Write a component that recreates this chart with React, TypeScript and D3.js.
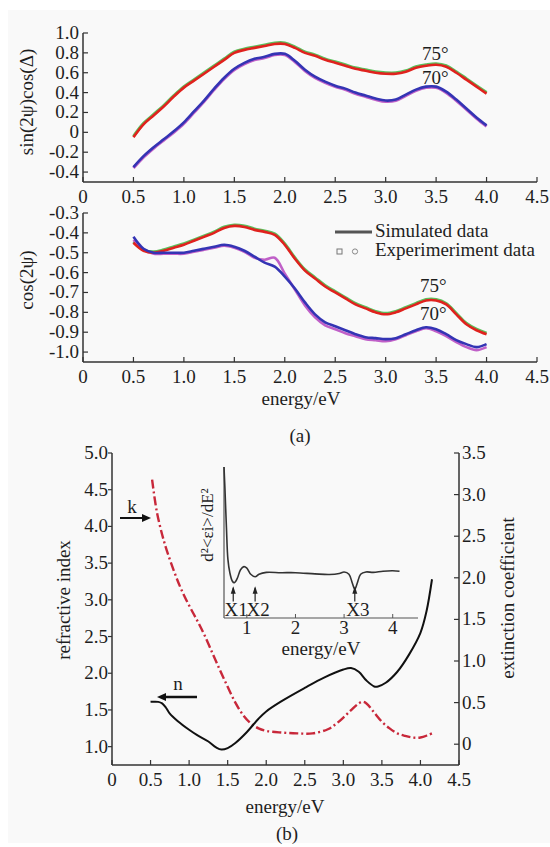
import React from "react";
import * as d3 from "d3";

// ---------- DATA ----------
const energyA = [0.5,0.6,0.7,0.8,0.9,1.0,1.1,1.2,1.3,1.4,1.5,1.6,1.7,1.8,1.9,2.0,2.1,2.2,2.3,2.4,2.5,2.6,2.7,2.8,2.9,3.0,3.1,3.2,3.3,3.4,3.5,3.6,3.7,3.8,3.9,4.0];

const sinCos75 = [-0.05,0.08,0.17,0.26,0.36,0.45,0.52,0.59,0.66,0.73,0.80,0.83,0.85,0.87,0.89,0.89,0.85,0.80,0.77,0.73,0.70,0.67,0.64,0.62,0.60,0.59,0.59,0.61,0.65,0.67,0.68,0.66,0.60,0.53,0.46,0.39];
const sinCos70 = [-0.35,-0.24,-0.15,-0.07,0.01,0.10,0.21,0.32,0.44,0.55,0.64,0.70,0.74,0.76,0.79,0.79,0.72,0.63,0.56,0.51,0.47,0.44,0.40,0.37,0.34,0.32,0.33,0.38,0.43,0.46,0.46,0.41,0.33,0.24,0.15,0.07];

const cos75 = [-0.45,-0.49,-0.50,-0.49,-0.475,-0.46,-0.44,-0.42,-0.40,-0.375,-0.365,-0.37,-0.385,-0.395,-0.41,-0.46,-0.53,-0.59,-0.63,-0.67,-0.70,-0.73,-0.76,-0.78,-0.80,-0.81,-0.80,-0.78,-0.76,-0.74,-0.74,-0.76,-0.81,-0.86,-0.89,-0.91];
const cos70 = [-0.42,-0.48,-0.50,-0.50,-0.50,-0.50,-0.49,-0.48,-0.47,-0.46,-0.47,-0.49,-0.52,-0.55,-0.57,-0.62,-0.68,-0.75,-0.81,-0.85,-0.87,-0.89,-0.91,-0.925,-0.93,-0.935,-0.93,-0.91,-0.89,-0.875,-0.885,-0.91,-0.94,-0.96,-0.975,-0.96];
// experiment data 70° (deviates near 1.8-2.0 eV)
const cos70Exp = [-0.43,-0.48,-0.50,-0.50,-0.50,-0.50,-0.49,-0.48,-0.47,-0.46,-0.47,-0.49,-0.52,-0.53,-0.52,-0.60,-0.68,-0.76,-0.82,-0.86,-0.88,-0.90,-0.915,-0.93,-0.935,-0.94,-0.93,-0.91,-0.89,-0.875,-0.89,-0.915,-0.945,-0.97,-0.985,-0.97];

const topTicksY = [-0.4,-0.2,0,0.2,0.4,0.6,0.8,1.0];
const topTickLabelsY = ["-0.4","-0.2","0","0.2","0.4","0.6","0.8","1.0"];
const midTicksY = [-1.0,-0.9,-0.8,-0.7,-0.6,-0.5,-0.4,-0.3];
const midTickLabelsY = ["-1.0","-0.9","-0.8","-0.7","-0.6","-0.5","-0.4","-0.3"];
const energyTicks = [0,0.5,1.0,1.5,2.0,2.5,3.0,3.5,4.0,4.5];
const energyTickLabels = ["0","0.5","1.0","1.5","2.0","2.5","3.0","3.5","4.0","4.5"];

const kEnergy = [0.52,0.58,0.65,0.71,0.8,0.88,0.96,1.05,1.12,1.2,1.3,1.4,1.5,1.6,1.7,1.8,1.9,2.0,2.2,2.4,2.6,2.8,2.9,3.0,3.1,3.2,3.25,3.3,3.4,3.5,3.6,3.7,3.8,3.9,4.0,4.1,4.15];
const kValues = [3.18,2.80,2.52,2.33,2.09,1.90,1.74,1.58,1.46,1.31,1.10,0.89,0.69,0.50,0.35,0.25,0.19,0.16,0.14,0.13,0.13,0.18,0.24,0.32,0.41,0.49,0.51,0.49,0.38,0.27,0.19,0.13,0.10,0.08,0.08,0.11,0.13];

const nEnergy = [0.5,0.6,0.65,0.7,0.75,0.85,1.0,1.1,1.25,1.35,1.42,1.5,1.6,1.75,1.9,2.0,2.2,2.5,2.75,3.0,3.1,3.2,3.3,3.4,3.45,3.55,3.7,3.85,4.0,4.08,4.15];
const nValues = [1.61,1.61,1.59,1.53,1.45,1.35,1.23,1.16,1.07,0.99,0.96,0.98,1.05,1.20,1.38,1.48,1.62,1.80,1.94,2.05,2.07,2.02,1.90,1.82,1.82,1.87,2.02,2.25,2.55,2.85,3.28];

const nTicks = [1.0,1.5,2.0,2.5,3.0,3.5,4.0,4.5,5.0];
const nTickLabels = ["1.0","1.5","2.0","2.5","3.0","3.5","4.0","4.5","5.0"];
const kTicks = [0,0.5,1.0,1.5,2.0,2.5,3.0,3.5];
const kTickLabels = ["0","0.5","1.0","1.5","2.0","2.5","3.0","3.5"];

const insetEnergy = [0.53,0.55,0.58,0.61,0.65,0.7,0.74,0.8,0.87,0.94,1.0,1.08,1.17,1.25,1.4,1.7,2.0,2.4,2.7,2.9,3.0,3.1,3.17,3.22,3.27,3.34,3.45,3.6,3.8,4.0,4.14];
const insetValues = [10.0,8.5,6.0,3.9,3.0,2.45,2.33,2.6,3.2,3.4,3.3,2.9,2.73,2.9,3.02,3.0,3.0,2.92,2.88,2.95,3.05,2.9,2.3,1.9,2.3,2.9,3.05,3.02,3.1,3.13,3.1];
const insetTicks = [1,2,3,4];
const insetMarkers = [
  { label: "X1", e: 0.72 },
  { label: "X2", e: 1.17 },
  { label: "X3", e: 3.22 },
];

// ---------- STYLE ----------
const FONT = "Liberation Serif, Times New Roman, DejaVu Serif, serif";
const TXT = "#1e1e1e";
const AX = "#333";
const fstyle = { fontFamily: FONT };

type Pt = [number, number];
const zip = (xs: number[], ys: number[]): Pt[] => xs.map((x, i) => [x, ys[i]]);

export default function App() {
  // scales
  const xA = d3.scaleLinear().domain([0, 4.5]).range([83, 537]);
  const yTop = d3.scaleLinear().domain([-0.5, 1.0]).range([182, 33]);
  const yMid = d3.scaleLinear().domain([-1.05, -0.3]).range([362, 213]);

  const xB = d3.scaleLinear().domain([0, 4.5]).range([112, 459]);
  const yN = d3.scaleLinear().domain([0.75, 5.0]).range([765, 453]);
  const yK = d3.scaleLinear().domain([-0.25, 3.5]).range([765, 453]);

  const xI = d3.scaleLinear().domain([0.53, 4.52]).range([224, 418]);
  const yI = d3.scaleLinear().domain([0, 10]).range([618, 467]);

  const lineTop = d3.line<Pt>().x(d => xA(d[0])).y(d => yTop(d[1])).curve(d3.curveCatmullRom);
  const lineMid = d3.line<Pt>().x(d => xA(d[0])).y(d => yMid(d[1])).curve(d3.curveCatmullRom);
  const lineK = d3.line<Pt>().x(d => xB(d[0])).y(d => yK(d[1])).curve(d3.curveCatmullRom);
  const lineN = d3.line<Pt>().x(d => xB(d[0])).y(d => yN(d[1])).curve(d3.curveCatmullRom);
  const lineI = d3.line<Pt>().x(d => xI(d[0])).y(d => yI(d[1])).curve(d3.curveCatmullRom);

  const fs = 19;

  const T = (props: any) => <text fontSize={fs} fill={TXT} style={fstyle} {...props} />;

  const xAxisA = (y: number, key: string) => (
    <g key={key}>
      <line x1={xA(0)} x2={xA(4.5)} y1={y} y2={y} stroke={AX} strokeWidth={1.5} />
      {energyTicks.map((t, i) => (
        <g key={i}>
          <line x1={xA(t)} x2={xA(t)} y1={y} y2={y - 5} stroke={AX} strokeWidth={1.2} />
          <T x={xA(t)} y={y + 21} textAnchor="middle">{energyTickLabels[i]}</T>
        </g>
      ))}
    </g>
  );

  return (
    <svg width={550} height={847} style={{ position: "absolute", left: 0, top: 0 }}>
      <rect x={0} y={0} width={550} height={847} fill="#ffffff" />
      <rect x={8} y={10} width={542} height={833} fill="#f9f9f9" />

      {/* ---------- TOP PANEL ---------- */}
      <line x1={xA(0)} x2={xA(0)} y1={yTop(1.0)} y2={yTop(-0.5)} stroke={AX} strokeWidth={1.5} />
      {topTicksY.map((t, i) => (
        <g key={i}>
          <line x1={xA(0)} x2={xA(0) + 5} y1={yTop(t)} y2={yTop(t)} stroke={AX} strokeWidth={1.2} />
          <T x={xA(0) - 4} y={yTop(t) + 6} textAnchor="end">{topTickLabelsY[i]}</T>
        </g>
      ))}
      {xAxisA(yTop(-0.5), "xa1")}
      <T transform={`translate(33,102) rotate(-90)`} textAnchor="middle">sin(2ψ)cos(Δ)</T>

      <path d={lineTop(zip(energyA, sinCos75)) || ""} fill="none" stroke="#5cc05c" strokeWidth={3} transform="translate(0,-1)" />
      <path d={lineTop(zip(energyA, sinCos70)) || ""} fill="none" stroke="#c060c8" strokeWidth={3} transform="translate(0,1)" />
      <path d={lineTop(zip(energyA, sinCos75)) || ""} fill="none" stroke="#e0221e" strokeWidth={2.6} />
      <path d={lineTop(zip(energyA, sinCos70)) || ""} fill="none" stroke="#3434b4" strokeWidth={2.6} />
      <T x={422} y={60}>75°</T>
      <T x={422} y={84}>70°</T>

      {/* ---------- MIDDLE PANEL ---------- */}
      <line x1={xA(0)} x2={xA(0)} y1={yMid(-0.3)} y2={yMid(-1.05)} stroke={AX} strokeWidth={1.5} />
      {midTicksY.map((t, i) => (
        <g key={i}>
          <line x1={xA(0)} x2={xA(0) + 5} y1={yMid(t)} y2={yMid(t)} stroke={AX} strokeWidth={1.2} />
          <T x={xA(0) - 4} y={yMid(t) + 6} textAnchor="end">{midTickLabelsY[i]}</T>
        </g>
      ))}
      {xAxisA(yMid(-1.05), "xa2")}
      <T transform={`translate(33,280) rotate(-90)`} textAnchor="middle">cos(2ψ)</T>

      <path d={lineMid(zip(energyA, cos75)) || ""} fill="none" stroke="#5cc05c" strokeWidth={3} transform="translate(0,-1)" />
      <path d={lineMid(zip(energyA, cos70Exp)) || ""} fill="none" stroke="#c060c8" strokeWidth={2.6} transform="translate(0,1)" />
      <path d={lineMid(zip(energyA, cos75)) || ""} fill="none" stroke="#e0221e" strokeWidth={2.6} />
      <path d={lineMid(zip(energyA, cos70)) || ""} fill="none" stroke="#3434b4" strokeWidth={2.6} />
      <T x={420} y={292}>75°</T>
      <T x={420} y={320}>70°</T>

      {/* legend */}
      <line x1={335} x2={372} y1={232} y2={232} stroke="#555" strokeWidth={3} />
      <T x={375} y={237}>Simulated data</T>
      <rect x={337} y={249} width={5} height={5} fill="none" stroke="#777" strokeWidth={1} />
      <circle cx={355} cy={251.5} r={2.6} fill="none" stroke="#888" strokeWidth={1} />
      <T x={375} y={256}>Experimeriment data</T>

      <T x={301} y={405} textAnchor="middle">energy/eV</T>
      <T x={300} y={442} textAnchor="middle">(a)</T>

      {/* ---------- BOTTOM PANEL ---------- */}
      <line x1={xB(0)} x2={xB(0)} y1={yN(5.0)} y2={yN(0.75)} stroke={AX} strokeWidth={1.5} />
      <line x1={xB(4.5)} x2={xB(4.5)} y1={yK(3.5)} y2={yK(-0.25)} stroke={AX} strokeWidth={1.5} />
      <line x1={xB(0)} x2={xB(4.5)} y1={yN(0.75)} y2={yN(0.75)} stroke={AX} strokeWidth={1.5} />
      {nTicks.map((t, i) => (
        <g key={i}>
          <line x1={xB(0) - 4} x2={xB(0)} y1={yN(t)} y2={yN(t)} stroke={AX} strokeWidth={1.2} />
          <T x={xB(0) - 4} y={yN(t) + 6} textAnchor="end">{nTickLabels[i]}</T>
        </g>
      ))}
      {kTicks.map((t, i) => (
        <g key={i}>
          <line x1={xB(4.5) - 5} x2={xB(4.5)} y1={yK(t)} y2={yK(t)} stroke={AX} strokeWidth={1.2} />
          <T x={xB(4.5) + 3} y={yK(t) + 6} textAnchor="start">{kTickLabels[i]}</T>
        </g>
      ))}
      {energyTicks.map((t, i) => (
        <g key={i}>
          <line x1={xB(t)} x2={xB(t)} y1={yN(0.75)} y2={yN(0.75) - 5} stroke={AX} strokeWidth={1.2} />
          <T x={xB(t)} y={yN(0.75) + 21} textAnchor="middle">{energyTickLabels[i]}</T>
        </g>
      ))}
      <T transform={`translate(70,600) rotate(-90)`} textAnchor="middle">refractive index</T>
      <T transform={`translate(514,598) rotate(-90)`} textAnchor="middle">extinction coefficient</T>
      <T x={285} y={813} textAnchor="middle">energy/eV</T>
      <T x={287} y={840} textAnchor="middle">(b)</T>

      <path d={lineK(zip(kEnergy, kValues)) || ""} fill="none" stroke="#c8283a" strokeWidth={2.4} strokeDasharray="9,3,2,3" />
      <path d={lineN(zip(nEnergy, nValues)) || ""} fill="none" stroke="#111" strokeWidth={2} />

      {/* k / n arrows */}
      <line x1={120} x2={144} y1={518} y2={518} stroke="#111" strokeWidth={2} />
      <polygon points="151,518 142,514 142,522" fill="#111" />
      <T x={132} y={513} textAnchor="middle">k</T>
      <line x1={197} x2={165} y1={697} y2={697} stroke="#111" strokeWidth={2.5} />
      <polygon points="157,697 166,693 166,701" fill="#111" />
      <T x={178} y={690} textAnchor="middle">n</T>

      {/* ---------- INSET ---------- */}
      <line x1={xI(0.53)} x2={xI(0.53)} y1={yI(10)} y2={yI(0)} stroke="#555" strokeWidth={1.2} />
      <line x1={xI(0.53)} x2={xI(4.52)} y1={yI(0)} y2={yI(0)} stroke="#555" strokeWidth={1.2} />
      {insetTicks.map((t) => (
        <g key={t}>
          <line x1={xI(t)} x2={xI(t)} y1={yI(0)} y2={yI(0) - 4} stroke="#555" strokeWidth={1} />
          <T x={xI(t)} y={yI(0) + 16} textAnchor="middle">{t}</T>
        </g>
      ))}
      <path d={lineI(zip(insetEnergy, insetValues)) || ""} fill="none" stroke="#333" strokeWidth={1.6} />
      {insetMarkers.map((m) => (
        <g key={m.label}>
          <line x1={xI(m.e)} x2={xI(m.e)} y1={yI(1.1)} y2={yI(2.0)} stroke="#222" strokeWidth={1.2} />
          <polygon points={`${xI(m.e)},${yI(2.1)} ${xI(m.e) - 2.5},${yI(1.6)} ${xI(m.e) + 2.5},${yI(1.6)}`} fill="#222" />
          <T x={xI(m.e) + 3} y={yI(0) - 2} textAnchor="middle">{m.label}</T>
        </g>
      ))}
      <T transform={`translate(213,525) rotate(-90)`} textAnchor="middle" fontSize={17}>d²&lt;εi&gt;/dE²</T>
      <T x={321} y={655} textAnchor="middle">energy/eV</T>
    </svg>
  );
}
